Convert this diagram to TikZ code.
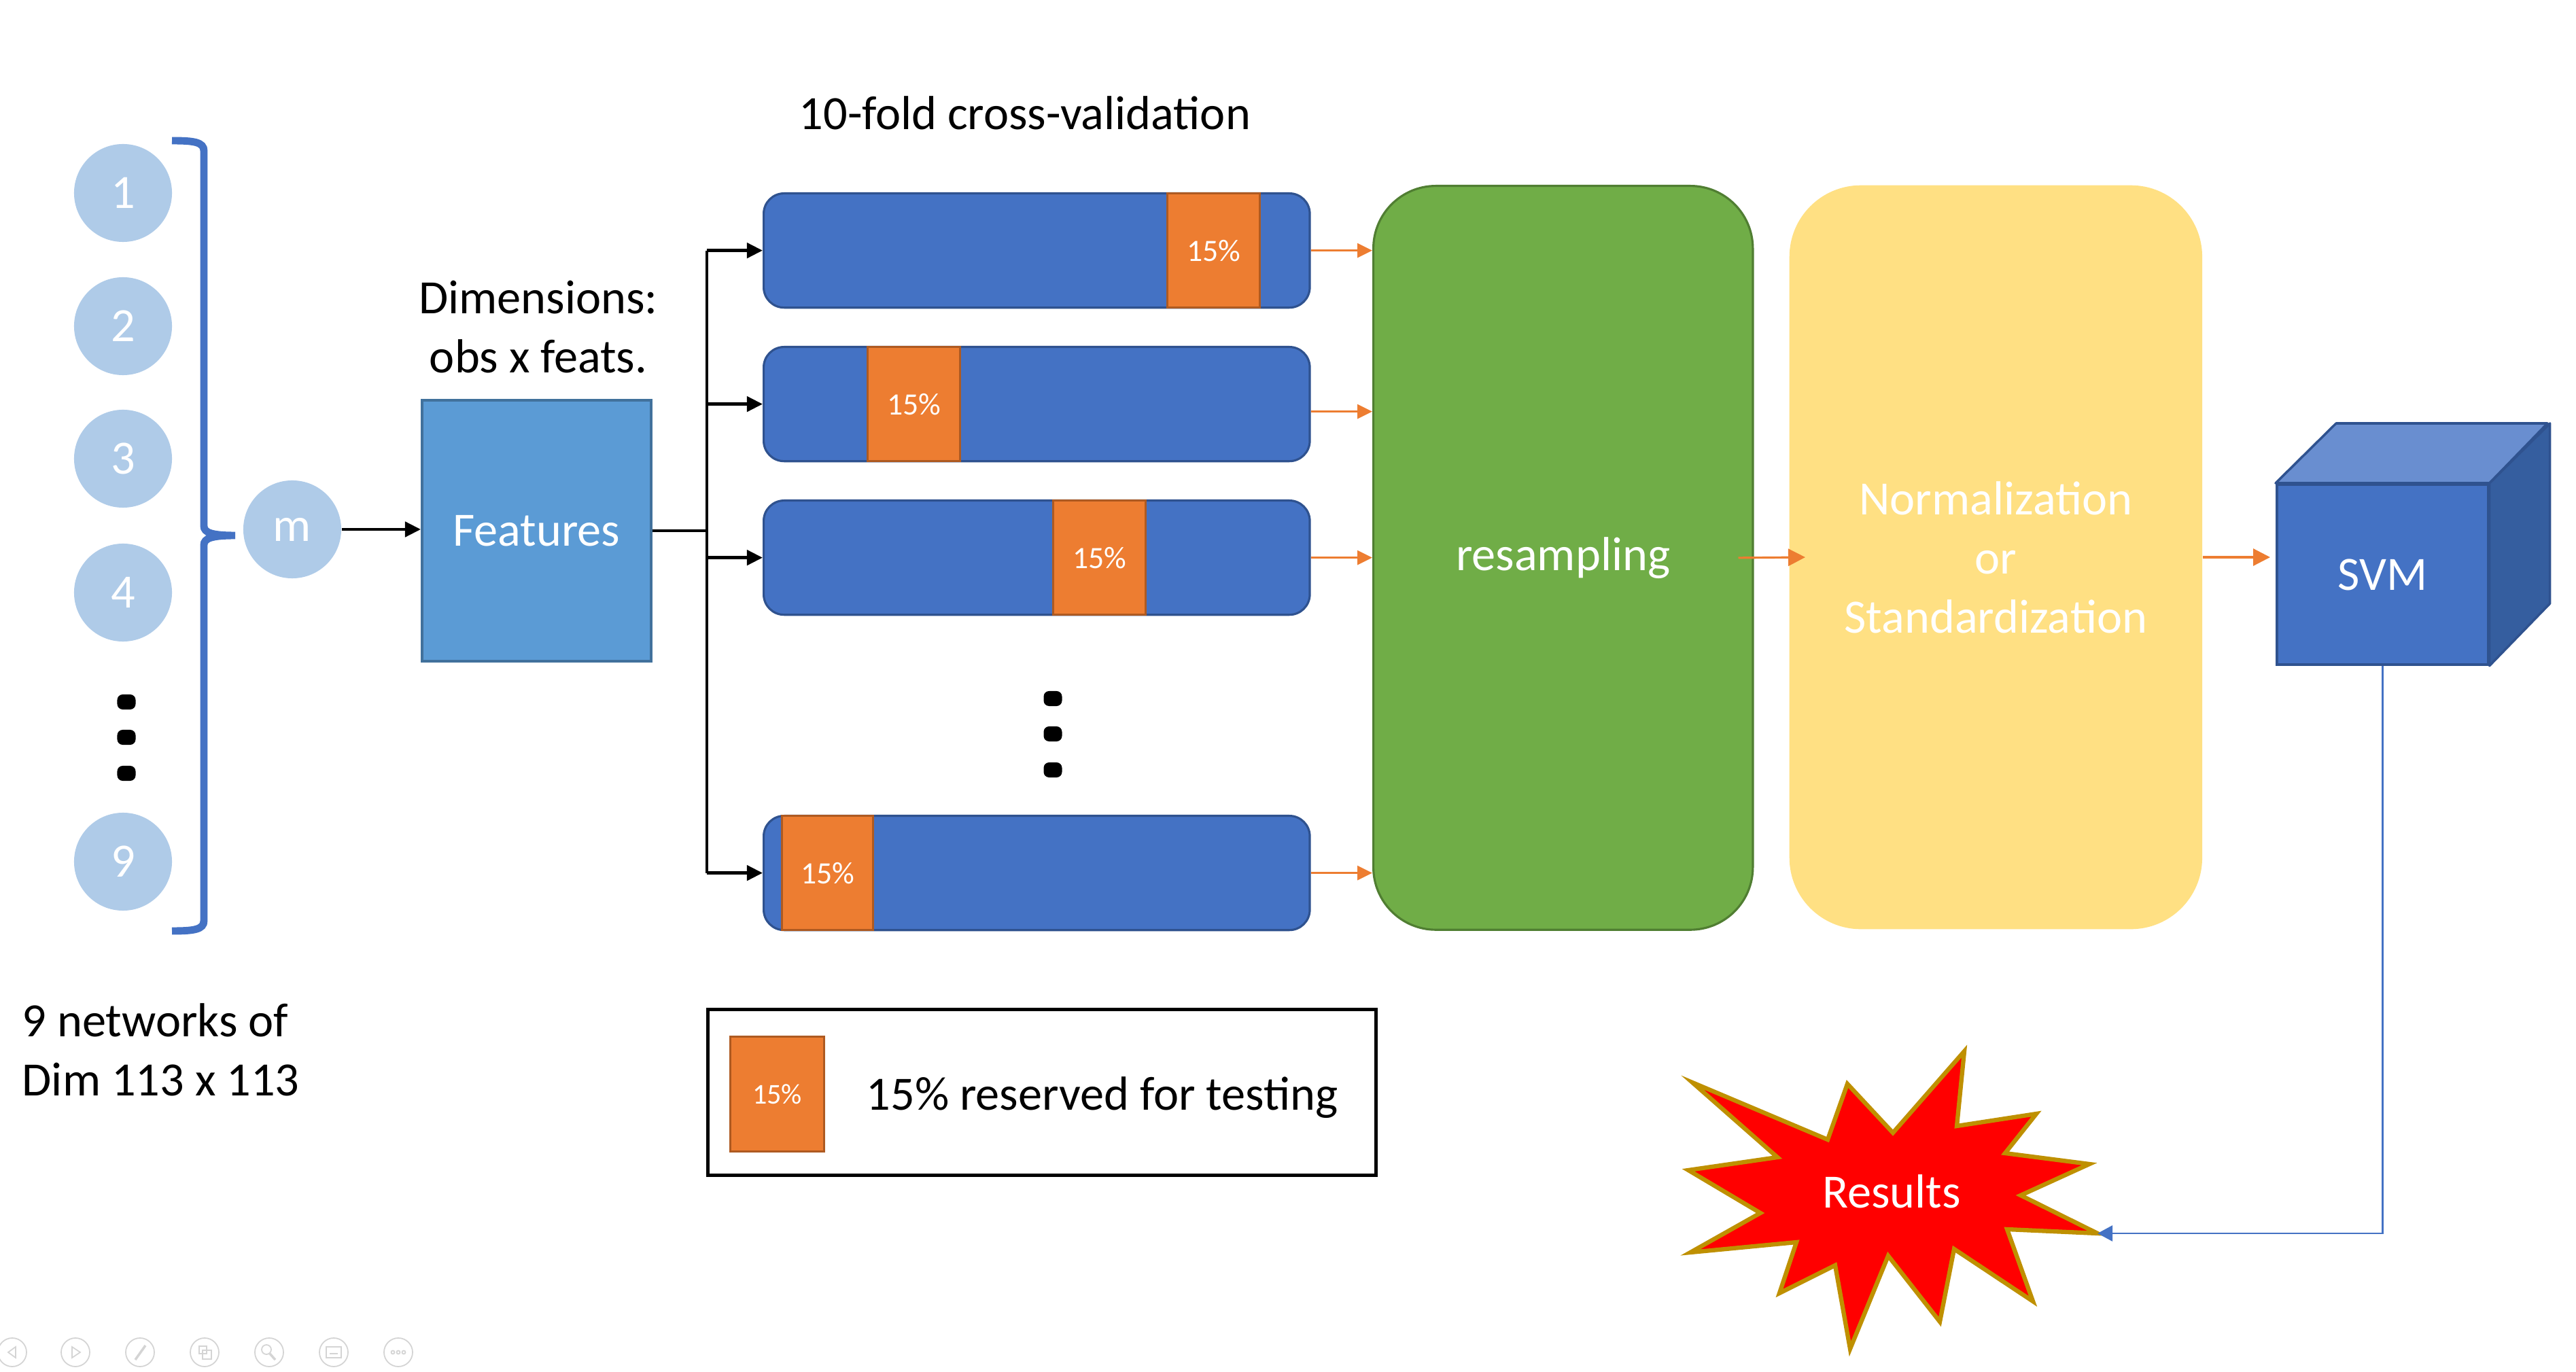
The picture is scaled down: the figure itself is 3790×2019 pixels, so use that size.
\documentclass[tikz,border=0pt]{standalone}
\usepackage{fontspec}
\setmainfont{Carlito}
\usetikzlibrary{arrows.meta}
\definecolor{circ}{HTML}{AFCBE8}
\definecolor{braceblue}{HTML}{4472C4}
\definecolor{featfill}{HTML}{5B9BD5}
\definecolor{featdraw}{HTML}{41719C}
\definecolor{barblue}{HTML}{4472C4}
\definecolor{bardraw}{HTML}{2F528F}
\definecolor{segorange}{HTML}{ED7D31}
\definecolor{segdraw}{HTML}{AE5A21}
\definecolor{greenfill}{HTML}{70AD47}
\definecolor{greendraw}{HTML}{507E32}
\definecolor{yellowfill}{HTML}{FFE083}
\definecolor{svmtop}{HTML}{698ED0}
\definecolor{svmside}{HTML}{355E9F}
\definecolor{stardraw}{HTML}{BF9000}
\definecolor{toolgray}{HTML}{D4D4D4}
\tikzset{
  bigtxt/.style={font=\fontsize{20}{24.7}\selectfont, inner sep=0pt},
  whitetxt/.style={bigtxt, text=white},
  circnode/.style={circle, fill=circ, minimum size=1.44cm, inner sep=0pt, text=white, font=\fontsize{20}{24}\selectfont},
  featbox/.style={draw=featdraw, fill=featfill, line width=1pt, minimum width=3.37cm, minimum height=3.84cm, inner sep=0pt, anchor=north west, text=white, font=\fontsize{20}{24}\selectfont},
  barbox/.style={draw=bardraw, fill=barblue, line width=0.9pt, rounded corners=0.3cm, minimum width=8.03cm, minimum height=1.68cm, inner sep=0pt, anchor=north west},
  segbox/.style={draw=segdraw, fill=segorange, line width=0.9pt, minimum width=1.36cm, minimum height=1.68cm, inner sep=0pt, anchor=north west, text=white, font=\fontsize{13}{15}\selectfont},
  dotnode/.style={fill=black, rounded corners=0.08cm, minimum width=0.27cm, minimum height=0.22cm, inner sep=0pt},
  blkline/.style={line width=1.3pt},
  blkarrow/.style={line width=1.3pt, -{Triangle[length=0.23cm,width=0.22cm]}},
  orarrow/.style={draw=segorange, line width=0.9pt, -{Triangle[length=0.22cm,width=0.21cm]}},
  orbig/.style={draw=segorange, line width=0.9pt, -{Triangle[length=0.25cm,width=0.25cm]}},
  tool/.style={draw=toolgray, line width=0.5pt},
}
\begin{document}
\begin{tikzpicture}[x=0.01cm,y=-0.01cm]
\useasboundingbox (0,0) rectangle (3790,2019);

% numbered circles
\node[circnode] (c1) at (181,284) {1};
\node[circnode] (c2) at (181,480) {2};
\node[circnode] (c3) at (181,675) {3};
\node[circnode] (c4) at (181,872) {4};
\node[circnode] (c9) at (181,1268) {9};
\node[dotnode] (ld1) at (186,1033) {};
\node[dotnode] (ld2) at (186,1085) {};
\node[dotnode] (ld3) at (186,1138) {};

% brace
\draw[braceblue, line width=3.1pt]
  (253,207) .. controls (285,207) and (300,209) .. (300,222)
  -- (300,774) .. controls (300,784) and (312,788) .. (346,788)
  .. controls (312,788) and (300,792) .. (300,802)
  -- (300,1355) .. controls (300,1368) and (285,1370) .. (253,1370);

\node[circnode] (m) at (430,779) {m};

% text labels
\node[bigtxt, align=left, anchor=west] (nets) at (32,1545) {9 networks of\\Dim 113 x 113};
\node[bigtxt, align=center] (dims) at (792,481) {Dimensions:\\obs x feats.};
\node[bigtxt] (cvt) at (1508,166) {10-fold cross-validation};

% features
\node[featbox] (feat) at (619,587) {Features};
\draw[blkarrow] (m.east) -- (m.east -| feat.west);

% bars
\node[barbox] (b1) at (1122,283) {};
\node[segbox] (s1) at (1716,283) {15\%};
\node[barbox] (b2) at (1122,509) {};
\node[segbox] (s2) at (1275,509) {15\%};
\node[barbox] (b3) at (1122,735) {};
\node[segbox] (s3) at (1548,735) {15\%};
\node[barbox] (b4) at (1122,1199) {};
\node[segbox, minimum width=1.34cm] (s4) at (1149,1199) {15\%};
\node[dotnode] (md1) at (1549,1028) {};
\node[dotnode] (md2) at (1549,1080) {};
\node[dotnode] (md3) at (1549,1133) {};

% bus
\coordinate (bus) at (1040,779);
\draw[blkline] (feat.east) -- (feat.east -| bus);
\draw[blkline] (bus |- b1.west) -- (bus |- b4.west);
\foreach \b in {b1,b2,b3,b4} \draw[blkarrow] (bus |- \b.west) -- (\b.west);

% resampling and normalization
\node[draw=greendraw, fill=greenfill, line width=0.9pt, rounded corners=0.92cm, minimum width=5.58cm, minimum height=10.94cm, inner sep=0pt, anchor=north west] (rs) at (2019,272) {};
\node[whitetxt] (rstxt) at (rs.center) {resampling};
\node[fill=yellowfill, rounded corners=1.05cm, minimum width=6.07cm, minimum height=10.94cm, inner sep=0pt, anchor=north west] (norm) at (2632,272) {};
\node[whitetxt, align=center] (normtxt) at (norm.center) {Normalization\\or\\Standardization};

\draw[orarrow] (b1.east) -- (b1.east -| rs.west);
\draw[orarrow] ([yshift=-0.11cm]b2.east) -- ([yshift=-0.11cm]b2.east -| rs.west);
\draw[orarrow] (b3.east) -- (b3.east -| rs.west);
\draw[orarrow] (b4.east) -- (b4.east -| rs.west);
\draw[orbig] ([xshift=-0.23cm]rs.east) -- ([xshift=0.24cm]norm.west);

% SVM cube
\node[draw=bardraw, fill=barblue, line width=1pt, minimum width=3.11cm, minimum height=2.65cm, inner sep=0pt, anchor=north west] (svm) at (3348,711) {};
\draw[draw=bardraw, fill=svmtop, line width=1pt, line join=round] (svm.north west) -- ++(89,-88) -- ++(311,0) -- (svm.north east) -- cycle;
\draw[draw=bardraw, fill=svmside, line width=1pt, line join=round] (svm.north east) -- ++(89,-88) -- ++(0,265) -- (svm.south east) -- cycle;
\node[whitetxt] (svmtxt) at ([yshift=-0.01cm]svm.center) {SVM};
\draw[orbig] (norm.east) -- ([xshift=-0.08cm]norm.east -| svm.west);

% Results star
\filldraw[fill=red, draw=stardraw, line width=1.8pt, line join=miter]
  (2490,1593) -- (2615,1703) -- (2484,1722) -- (2590,1785) -- (2487,1843) -- (2643,1828)
  -- (2618,1903) -- (2700,1862) -- (2722,1985) -- (2778,1848) -- (2854,1945) -- (2875,1838)
  -- (2991,1915) -- (2953,1809) -- (3086,1815) -- (2973,1759) -- (3074,1713) -- (2950,1697)
  -- (2996,1639) -- (2879,1657) -- (2890,1547) -- (2785,1667) -- (2718,1595) -- (2689,1677) -- cycle;
\coordinate (restip) at (3086,1815);
\node[whitetxt] (res) at (2783,1753) {Results};
\draw[braceblue, line width=0.8pt, -{Triangle[length=0.22cm,width=0.23cm]}] (svm.south) |- (restip);

% legend
\node[draw=black, line width=1.5pt, minimum width=9.82cm, minimum height=2.44cm, inner sep=0pt, anchor=north west] (leg) at (1039,1483) {};
\node[segbox, minimum width=1.38cm, minimum height=1.69cm, font=\fontsize{12}{14}\selectfont] (legseg) at (1073,1524) {15\%};
\node[bigtxt, anchor=base west] (legtxt) at (1274,1633) {15\% reserved for testing};

% slideshow toolbar
\foreach \x in {18,111,206,301,396,491,586} \draw[tool] (\x,1990) circle (0.21cm);
\draw[tool] (12,1990) -- (23,1982) -- (23,1998) -- cycle;
\draw[tool] (106,1982) -- (118,1990) -- (106,1998) -- cycle;
\draw[tool, line width=1pt] (199,2001) -- (214,1980);
\draw[tool] (293,1981) rectangle (304,1992);
\draw[tool] (298,1987) rectangle (311,2000);
\draw[tool] (392,1986) circle (0.07cm);
\draw[tool, line width=1pt] (397,1992) -- (405,2001);
\draw[tool] (480,1982) rectangle (502,1998);
\draw[tool] (485,1992) -- (497,1992);
\foreach \x in {578,586,594} \draw[tool] (\x,1990) circle (0.025cm);
\end{tikzpicture}
\end{document}
